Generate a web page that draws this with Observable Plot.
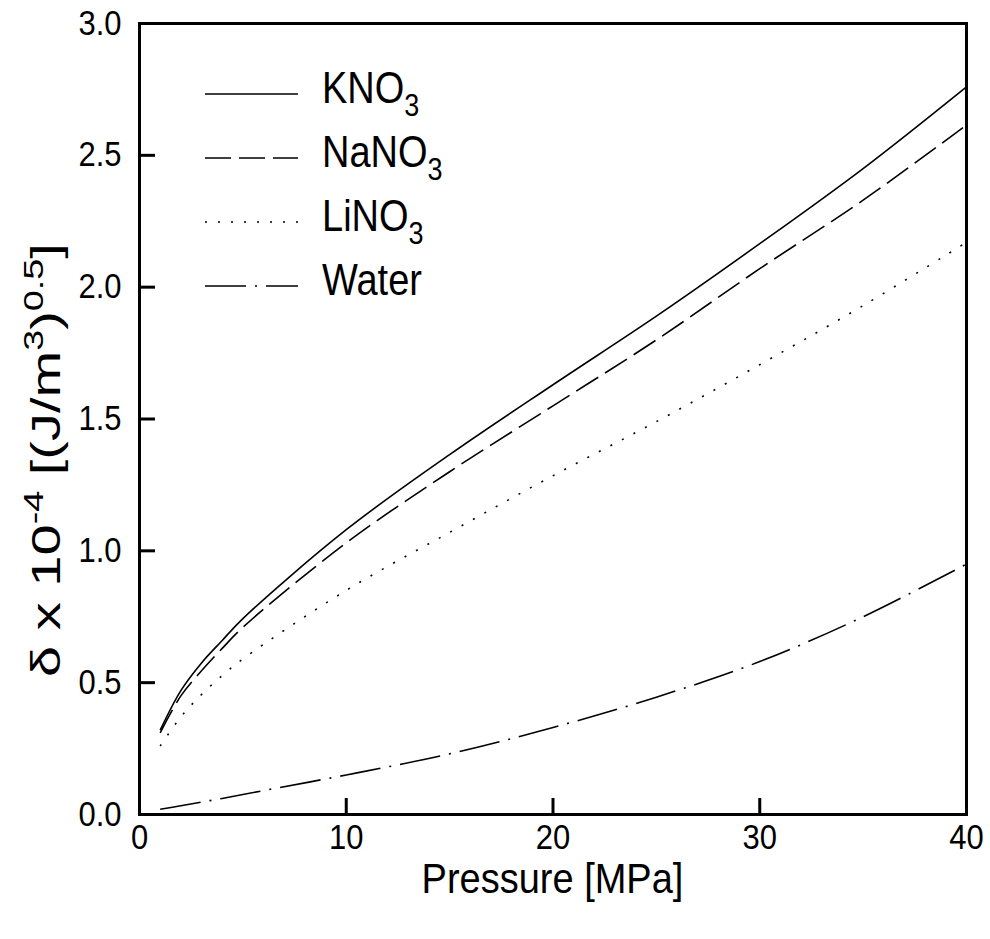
<!DOCTYPE html>
<html><head><meta charset="utf-8">
<script src="https://cdn.jsdelivr.net/npm/d3@7"></script>
<script src="https://cdn.jsdelivr.net/npm/@observablehq/plot@0.6"></script>
<style>
body{margin:0;background:#fff;}
#chart{position:relative;width:990px;height:939px;}
</style>
</head><body><div id="chart"></div>
<script>
// ---- data ----
const pressure = [1, 2, 3, 4, 5, 10, 15, 20, 25, 30, 35, 40];
const kno3  = [0.32, 0.47, 0.575, 0.66, 0.743, 1.08, 1.365, 1.63, 1.89, 2.165, 2.45, 2.76];
const nano3 = [0.31, 0.45, 0.545, 0.63, 0.71, 1.03, 1.30, 1.55, 1.80, 2.07, 2.33, 2.615];
const lino3 = [0.26, 0.37, 0.455, 0.527, 0.59, 0.85, 1.07, 1.285, 1.49, 1.706, 1.93, 2.17];
const water = [0.02, 0.033, 0.047, 0.061, 0.076, 0.15, 0.23, 0.33, 0.445, 0.58, 0.75, 0.95];
const seriesNames = ["KNO3", "NaNO3", "LiNO3", "Water"];
const legendBase = ["KNO", "NaNO", "LiNO", "Water"];
const legendSub = ["3", "3", "3", ""];
const xTicks = [0, 10, 20, 30, 40];
const yTicks = [0, 0.5, 1.0, 1.5, 2.0, 2.5, 3.0];
const xInnerTicks = [10, 20, 30];
const yInnerTicks = [0.5, 1.0, 1.5, 2.0, 2.5];
const xTitle = "Pressure [MPa]";

// ---- styles ----
const dashes = {KNO3: "none", NaNO3: "26,8", LiNO3: "2,11", Water: "41,9,2,9"};
const FONT = "'Liberation Sans', Arial, Helvetica, sans-serif";
const STRETCH = 1.12;
const TICK = 16;
const W = 990, H = 939, mL = 139, mR = 24, mT = 23, mB = 125;
const innerW = W - mL - mR, innerH = H - mT - mB;

const values = [kno3, nano3, lino3, water];
const rows = [];
seriesNames.forEach((s, i) => pressure.forEach((p, j) => rows.push({series: s, p, v: values[i][j]})));

const lineMarks = seriesNames.map(s => Plot.line(rows.filter(d => d.series === s), {
  x: "p", y: "v", stroke: "#000", strokeWidth: 1.6, curve: "catmull-rom",
  strokeDasharray: dashes[s], strokeLinecap: "butt"
}));

const plot = Plot.plot({
  width: W, height: H,
  marginLeft: mL, marginRight: mR, marginTop: mT, marginBottom: mB,
  style: {fontFamily: FONT, background: "#fff", color: "#000", overflow: "visible"},
  x: {domain: [0, 40]},
  y: {domain: [0, 3]},
  marks: [
    ...lineMarks,
    // inward ticks: rules from the frame edge into the plot
    Plot.ruleX(xInnerTicks, {stroke: "#000", strokeWidth: 3, insetTop: innerH - TICK}),
    Plot.axisY({ticks: yInnerTicks, tickSize: TICK, insetLeft: TICK, stroke: "#000", strokeWidth: 3, tickFormat: () => "", label: null}),
    Plot.frame({stroke: "#000", strokeWidth: 3}),
    Plot.axisX({ticks: xTicks, tickSize: 0, tickPadding: 10, fontSize: 31, label: null, tickFormat: d3.format("d")}),
    Plot.axisY({ticks: yTicks, tickSize: 0, tickPadding: 18, fontSize: 31, label: null, tickFormat: d3.format(".1f")})
  ]
});
document.getElementById("chart").appendChild(plot);

const svg = d3.select(plot);

// slight vertical stretch of tick labels, as in the reference
svg.selectAll('g[aria-label="x-axis tick label"] text, g[aria-label="y-axis tick label"] text').each(function () {
  const tr = this.getAttribute("transform") || "";
  this.setAttribute("transform", tr + ` scale(1,${STRETCH})`);
});

// x title
svg.append("text").attr("transform", `translate(${mL + innerW / 2},893) scale(1,1.14)`)
  .attr("text-anchor", "middle").attr("font-size", 38).attr("font-family", FONT).attr("fill", "#000")
  .text(xTitle);

// y title with superscripts (stretched along its length)
const yt = svg.append("text").attr("transform", `translate(60,460) rotate(-90) scale(1.4,1)`)
  .attr("text-anchor", "middle").attr("font-size", 40).attr("font-family", FONT).attr("fill", "#000");
yt.append("tspan").text("δ x 10");
yt.append("tspan").attr("font-size", 27).attr("dy", -17).text("-4");
yt.append("tspan").attr("dy", 17).text(" [(J/m");
yt.append("tspan").attr("font-size", 27).attr("dy", -17).text("3");
yt.append("tspan").attr("dy", 17).text(")");
yt.append("tspan").attr("font-size", 27).attr("dy", -17).text("0.5");
yt.append("tspan").attr("dy", 17).text("]");

// legend
const legendBaseline = [103, 167, 231, 295];
const lg = svg.append("g");
seriesNames.forEach((s, i) => {
  const ly = legendBaseline[i] - 9;
  lg.append("line").attr("x1", 205).attr("x2", 298).attr("y1", ly).attr("y2", ly)
    .attr("stroke", "#000").attr("stroke-width", 1.6)
    .attr("stroke-dasharray", dashes[s] === "none" ? null : dashes[s]);
  const t = lg.append("text").attr("transform", `translate(322,${legendBaseline[i]}) scale(1,1.15)`)
    .attr("text-anchor", "start").attr("font-size", 38).attr("font-family", FONT).attr("fill", "#000");
  t.append("tspan").text(legendBase[i]);
  if (legendSub[i]) t.append("tspan").attr("font-size", 27).attr("dy", 11).text(legendSub[i]);
});
</script>
</body></html>
